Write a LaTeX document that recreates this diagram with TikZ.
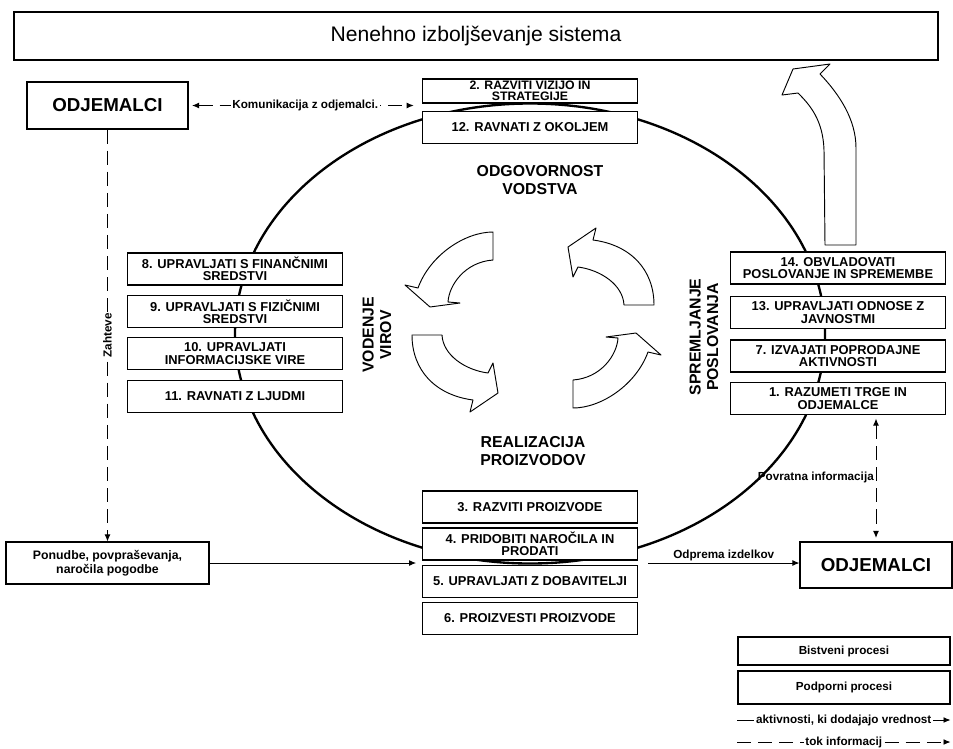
\documentclass[tikz,border=0pt]{standalone}
\usepackage{fontspec}
\setmainfont{Liberation Sans}
\usetikzlibrary{arrows.meta,positioning}

\begin{document}
\begin{tikzpicture}[x=0.03cm,y=-0.03cm,
  proc/.style={draw,line width=0.9pt,fill=white,minimum width=6.45cm,minimum height=0.96cm,inner sep=1pt,align=center,font=\bfseries\fontsize{11}{10.5}\selectfont},
  odj/.style={draw,line width=0.9pt,fill=white,font=\bfseries\fontsize{16}{18}\selectfont},
  area/.style={align=center,font=\bfseries\fontsize{13.5}{15}\selectfont},
  lbl/.style={inner sep=1.5pt,font=\bfseries\fontsize{10}{11}\selectfont},
  flow/.style={line width=0.8pt,-{Latex[length=6pt,width=5pt]}},
  info/.style={flow,dash pattern=on 12pt off 6pt},
  cyc/.style={draw,line width=0.8pt,fill=white,line join=round}]

\useasboundingbox (0,0) rectangle (953,748);

\begin{scope}
\pgfmathsetmacro{\colL}{235};
\pgfmathsetmacro{\colM}{530};
\pgfmathsetmacro{\colR}{838};

\node[draw,line width=1pt,minimum width=27.72cm,minimum height=1.44cm,font=\fontsize{18}{20}\selectfont] (title) at (476,36) {Nenehno izboljševanje sistema};

% krog procesov
\draw[line width=2pt] (\colM,333.5) ellipse [x radius=295,y radius=230];

\node[proc,minimum height=0.72cm,font=\bfseries\fontsize{10.5}{9.5}\selectfont] (p2) at (\colM,91) {2. RAZVITI VIZIJO IN\\STRATEGIJE};
\node[proc] (p12) at (\colM,127.5) {12. RAVNATI Z OKOLJEM};

\node[proc] (p8) at (\colL,269) {8. UPRAVLJATI S FINANČNIMI\\SREDSTVI};
\node[proc] (p9) at (\colL,311.5) {9. UPRAVLJATI S FIZIČNIMI\\SREDSTVI};
\node[proc] (p10) at (\colL,353.5) {10. UPRAVLJATI\\INFORMACIJSKE VIRE};
\node[proc] (p11) at (\colL,396.5) {11. RAVNATI Z LJUDMI};

\node[proc] (p14) at (\colR,268) {14. OBVLADOVATI\\POSLOVANJE IN SPREMEMBE};
\node[proc] (p13) at (\colR,312.5) {13. UPRAVLJATI ODNOSE Z\\JAVNOSTMI};
\node[proc] (p7) at (\colR,356) {7. IZVAJATI POPRODAJNE\\AKTIVNOSTI};
\node[proc] (p1) at (\colR,398.5) {1. RAZUMETI TRGE IN\\ODJEMALCE};

\node[proc] (p3) at (\colM,507) {3. RAZVITI PROIZVODE};
\node[proc] (p4) at (\colM,544) {4. PRIDOBITI NAROČILA IN\\PRODATI};
\node[proc] (p5) at (\colM,581.5) {5. UPRAVLJATI Z DOBAVITELJI};
\node[proc] (p6) at (\colM,618.5) {6. PROIZVESTI PROIZVODE};

\node[area] (odg) at (540,180) {ODGOVORNOST\\VODSTVA};
\node[area] (real) at (533,451) {REALIZACIJA\\PROIZVODOV};
\node[area,rotate=90] (vod) at (377,335) {VODENJE\\VIROV};
\node[area,rotate=90] (spr) at (704,337) {SPREMLJANJE\\POSLOVANJA};

% puscice v sredini
\foreach \rot in {0,180}{
\begin{scope}[rotate around={\rot:(533,320)}]
\draw[cyc] (493,232) .. controls (465,232) and (430,255) .. (418,288) -- (405,285) -- (430,307) -- (460,303) -- (448,302) .. controls (449,285) and (465,262) .. (493,260) -- cycle;
\draw[cyc] (412,335) .. controls (412,370) and (435,395) .. (473,400) -- (470,412) -- (498,393) -- (493,363) -- (488,373) .. controls (465,370) and (443,355) .. (442,335) -- cycle;
\end{scope}
}

% velika puscica
\draw[cyc] (825,245) -- (824,150) .. controls (823,120) and (810,105) .. (798,93) -- (782,95) -- (793,69) -- (830,64) -- (820,74) .. controls (840,95) and (856,120) .. (856,148) -- (856,245) -- cycle;

\node[odj,minimum width=4.83cm,minimum height=1.41cm] (odj1) at (107.5,105.5) {ODJEMALCI};
\node[draw,line width=0.9pt,minimum width=6.09cm,minimum height=1.26cm,align=center,font=\bfseries\fontsize{10.5}{12}\selectfont] (pon) at (107.5,563) {Ponudbe, povpraševanja,\\naročila pogodbe};
\node[odj,minimum width=4.56cm,minimum height=1.38cm] (odj2) at (876,565) {ODJEMALCI};

\draw[info,{Latex[length=6pt,width=5pt]}-{Latex[length=6pt,width=5pt]},shorten >=7pt,shorten <=3pt] (odj1.east) -- node[lbl,fill=white] {Komunikacija z odjemalci.} (odj1.east -| p2.west);
\draw[info] (odj1.south) -- node[lbl,fill=white,rotate=90] {Zahteve} (pon.north);
\draw[flow,shorten >=5pt] (pon.east) -- (pon.east -| p4.west);

\coordinate (odpr) at (648,563);
\draw[flow] (odpr) -- node[lbl,above] {Odprema izdelkov} (odpr -| odj2.west);
\draw[info,{Latex[length=6pt,width=5pt]}-{Latex[length=6pt,width=5pt]},shorten >=3pt,shorten <=3pt] (p1.south -| odj2.north) -- node[lbl,left,pos=0.49] {Povratna informacija} (odj2.north);

% legenda
\node[draw,line width=0.9pt,minimum width=6.36cm,minimum height=0.84cm,font=\bfseries\fontsize{10}{11}\selectfont] (bist) at (844,651) {Bistveni procesi};
\node[draw,line width=0.9pt,minimum width=6.36cm,minimum height=0.99cm,font=\bfseries\fontsize{10}{11}\selectfont] (podp) at (844,687.5) {Podporni procesi};
\coordinate (lg1) at (737,720);
\coordinate (lg2) at (737,742);
\draw[flow] (lg1) -- node[lbl,fill=white] {aktivnosti, ki dodajajo vrednost} (lg1 -| podp.east);
\draw[info] (lg2) -- node[lbl,fill=white] {tok informacij} (lg2 -| podp.east);

\end{scope}

\end{tikzpicture}
\end{document}
